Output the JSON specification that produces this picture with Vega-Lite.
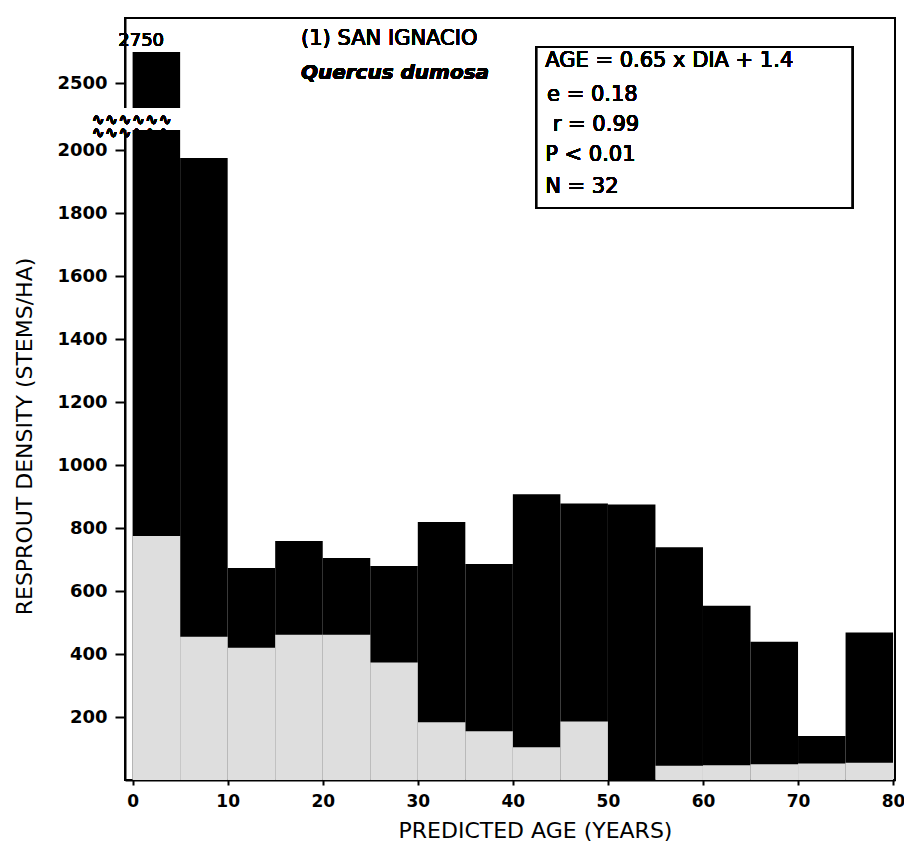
{
  "$schema": "https://vega.github.io/schema/vega-lite/v6.json",
  "width": 770,
  "height": 762,
  "autosize": "none",
  "padding": {"left": 125, "top": 18, "right": 9, "bottom": 64},
  "background": "white",
  "config": {
    "view": {"stroke": "black", "strokeWidth": 2},
    "font": "DejaVu Sans",
    "text": {"fill": "black", "strokeWidth": 0},
    "axis": {"domainColor": "black", "domainWidth": 2, "tickColor": "black", "tickWidth": 2, "labelColor": "black", "titleColor": "black", "grid": false, "labelFont": "DejaVu Sans", "titleFont": "DejaVu Sans", "titleFontWeight": "normal"}
  },
  "data": {
    "values": [
      {"start": 0, "end": 5, "total": 2750, "lower": 775},
      {"start": 5, "end": 10, "total": 1975, "lower": 455},
      {"start": 10, "end": 15, "total": 673, "lower": 420},
      {"start": 15, "end": 20, "total": 759, "lower": 461},
      {"start": 20, "end": 25, "total": 705, "lower": 461},
      {"start": 25, "end": 30, "total": 679, "lower": 373},
      {"start": 30, "end": 35, "total": 819, "lower": 183},
      {"start": 35, "end": 40, "total": 686, "lower": 155},
      {"start": 40, "end": 45, "total": 907, "lower": 104},
      {"start": 45, "end": 50, "total": 878, "lower": 186},
      {"start": 50, "end": 55, "total": 875, "lower": 0},
      {"start": 55, "end": 60, "total": 739, "lower": 45},
      {"start": 60, "end": 65, "total": 553, "lower": 47},
      {"start": 65, "end": 70, "total": 439, "lower": 50},
      {"start": 70, "end": 75, "total": 140, "lower": 52},
      {"start": 75, "end": 80, "total": 468, "lower": 55}
    ]
  },
  "layer": [
    {
      "mark": {"type": "rect", "fill": "black", "strokeWidth": 0},
      "encoding": {
        "x": {"field": "start", "type": "quantitative",
          "scale": {"domain": [-0.8, 80.2], "nice": false, "zero": false},
          "axis": {"values": [0, 10, 20, 30, 40, 50, 60, 70, 80], "tickSize": 5, "labelPadding": 8, "labelFontSize": 17, "labelFontWeight": "bold", "title": "PREDICTED AGE  (YEARS)", "titleFontSize": 22, "titlePadding": 11, "titleX": 410}},
        "x2": {"field": "end"},
        "y": {"field": "total", "type": "quantitative",
          "scale": {"domain": [0, 2000, 2500, 3025], "range": [762, 132, 65, 0], "nice": false, "zero": false},
          "axis": {"values": [200, 400, 600, 800, 1000, 1200, 1400, 1600, 1800, 2000, 2500], "format": "d", "tickSize": 10, "labelPadding": 8, "labelFontSize": 18, "labelFontWeight": "bold", "title": "RESPROUT DENSITY (STEMS/HA)", "titleFontSize": 22, "titlePadding": 20, "titleY": 418}},
        "y2": {"datum": 0}
      }
    },
    {
      "transform": [{"filter": "datum.lower > 0"}],
      "mark": {"type": "rect", "fill": "#dedede", "strokeWidth": 0},
      "encoding": {
        "x": {"field": "start", "type": "quantitative"},
        "x2": {"field": "end"},
        "y": {"field": "lower", "type": "quantitative"},
        "y2": {"datum": 0}
      }
    },
    {
      "mark": {"type": "rect", "fill": "white", "strokeWidth": 0, "clip": false},
      "encoding": {
        "x": {"datum": -2.2},
        "x2": {"datum": 5.3},
        "y": {"datum": 2150},
        "y2": {"datum": 2310}
      }
    },
    {
      "mark": {"type": "text", "text": ["∿∿∿∿∿∿", "∿∿∿∿∿∿"], "lineHeight": 13, "fontSize": 16, "fontWeight": "bold", "align": "center", "baseline": "middle", "fill": "black"},
      "encoding": {"x": {"datum": -0.1}, "y": {"datum": 2227}}
    },
    {
      "mark": {"type": "text", "text": "2750", "fontSize": 18, "align": "center", "baseline": "bottom", "dy": -2, "fill": "black"},
      "encoding": {"x": {"datum": 0.9}, "y": {"datum": 2750}}
    },
    {
      "mark": {"type": "text", "text": "(1) SAN IGNACIO", "fontSize": 21, "align": "center", "baseline": "middle", "fill": "black"},
      "encoding": {"x": {"datum": 27}, "y": {"datum": 2859}}
    },
    {
      "mark": {"type": "text", "text": "Quercus dumosa", "fontSize": 20, "fontStyle": "italic", "fontWeight": "bold", "align": "center", "baseline": "middle", "fill": "black"},
      "encoding": {"x": {"datum": 27.6}, "y": {"datum": 2581}}
    },
    {
      "mark": {"type": "rect", "fill": "white", "stroke": "black", "strokeWidth": 2},
      "encoding": {"x": {"datum": 42.5}, "x2": {"datum": 75.7}, "y": {"datum": 1816}, "y2": {"datum": 2791}}
    },
    {
      "mark": {"type": "text", "text": "AGE = 0.65 x DIA + 1.4", "fontSize": 21, "align": "left", "baseline": "middle", "fill": "black"},
      "encoding": {"x": {"datum": 43.4}, "y": {"datum": 2678}}
    },
    {
      "mark": {"type": "text", "text": "e = 0.18", "fontSize": 21, "align": "left", "baseline": "middle", "fill": "black"},
      "encoding": {"x": {"datum": 43.6}, "y": {"datum": 2410}}
    },
    {
      "mark": {"type": "text", "text": "r = 0.99", "fontSize": 21, "align": "left", "baseline": "middle", "fill": "black"},
      "encoding": {"x": {"datum": 44.2}, "y": {"datum": 2187}}
    },
    {
      "mark": {"type": "text", "text": "P < 0.01", "fontSize": 21, "align": "left", "baseline": "middle", "fill": "black"},
      "encoding": {"x": {"datum": 43.4}, "y": {"datum": 1984}}
    },
    {
      "mark": {"type": "text", "text": "N = 32", "fontSize": 21, "align": "left", "baseline": "middle", "fill": "black"},
      "encoding": {"x": {"datum": 43.4}, "y": {"datum": 1883}}
    }
  ]
}
